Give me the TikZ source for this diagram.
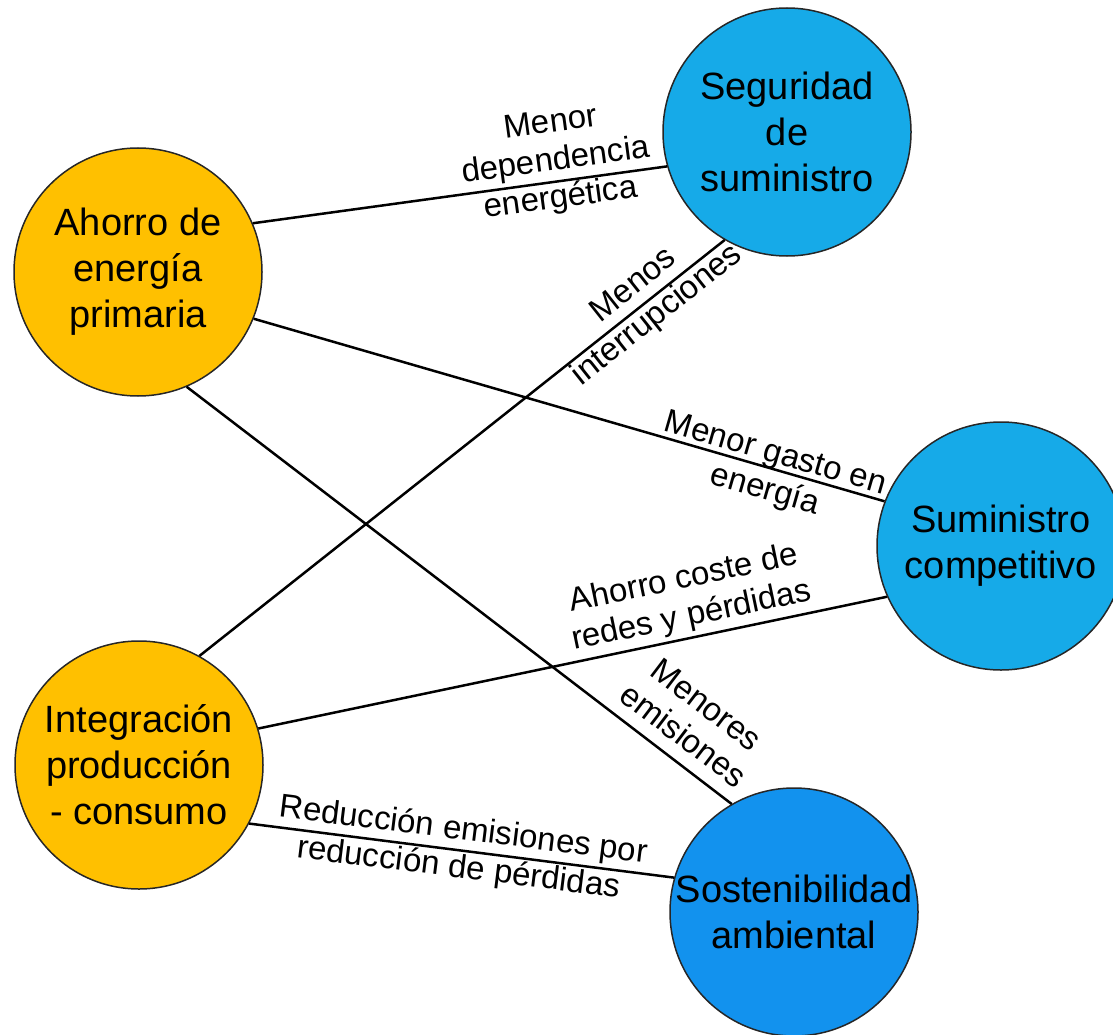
\documentclass[tikz,border=0pt]{standalone}
\usepackage{fontspec}
\setmainfont{Liberation Sans}
\definecolor{gold}{RGB}{255,192,0}
\definecolor{skyb}{RGB}{22,170,232}
\definecolor{deepb}{RGB}{18,146,238}
\begin{document}
\begin{tikzpicture}[x=1pt,y=-1pt,
  hub/.style={circle, draw=black!85, line width=1.5pt, minimum size=248pt, inner sep=0pt, align=center, font=\fontsize{38}{46}\selectfont},
  lbl/.style={align=center, inner sep=0pt, font=\fontsize{33}{38}\selectfont},
  link/.style={line width=2.5pt, black}]
\useasboundingbox (0,0) rectangle (1113,1035);
\node[hub, fill=gold] (A) at (138,272) {Ahorro de\\energía\\primaria};
\node[hub, fill=gold] (I) at (139,765) {Integración\\producción\\- consumo};
\node[hub, fill=skyb] (S) at (787,132) {Seguridad\\de\\suministro};
\node[hub, fill=skyb] (C) at (1001,546) {Suministro\\competitivo};
\node[hub, fill=deepb] (E) at (794,912) {Sostenibilidad\\ambiental};
\draw[link] (A.23) -- (S.196);
\draw[link] (A.-22) -- (C.159);
\draw[link] (A.-67) -- (E.120);
\draw[link] (I.61) -- (S.240);
\draw[link] (I.17) -- (C.204);
\draw[link] (I.-28) -- (E.164);
\node[lbl, rotate=7.7] (l1) at (556,162) {Menor\\dependencia\\energética};
\node[lbl, rotate=-16.1] (l2) at (770,473) {Menor gasto en\\energía};
\node[lbl, rotate=-37.3] (l3) at (695,720) {Menores\\emisiones};
\node[lbl, rotate=38.4] (l4) at (646,301) {Menos\\interrupciones};
\node[lbl, rotate=11.8] (l5) at (688,598) {Ahorro coste de\\redes y pérdidas};
\node[lbl, rotate=-7.1] (l6) at (461,850) {Reducción emisiones por\\reducción de pérdidas};
\end{tikzpicture}
\end{document}
